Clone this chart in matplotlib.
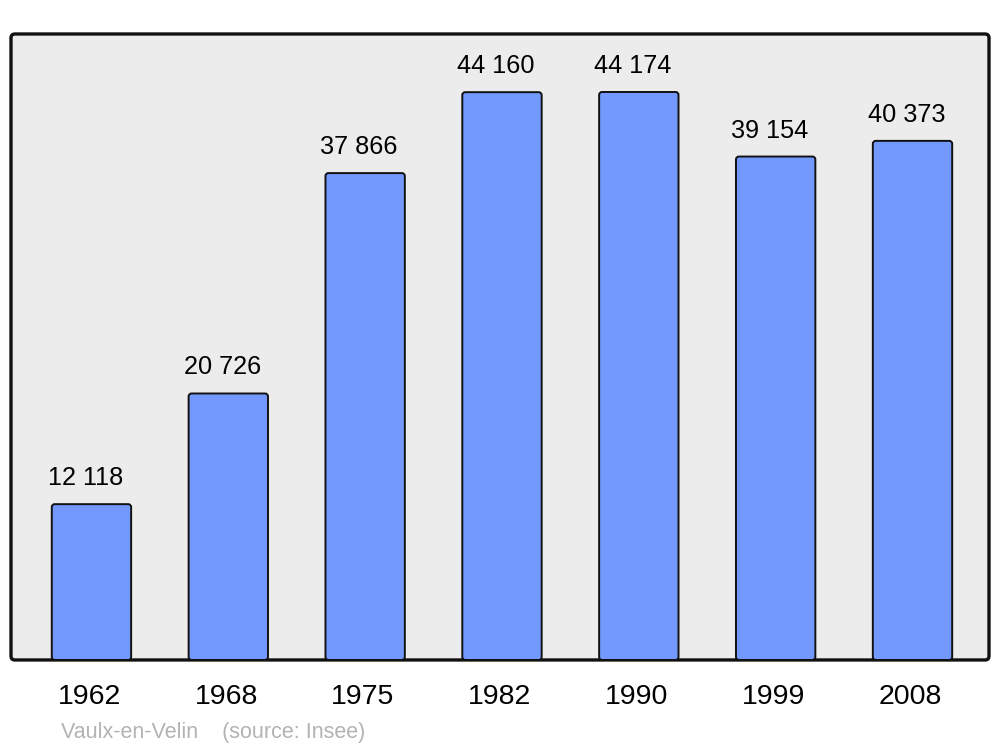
import matplotlib.pyplot as plt
from matplotlib.patches import FancyBboxPatch
from matplotlib.transforms import offset_copy

years = ["1962", "1968", "1975", "1982", "1990", "1999", "2008"]
population = [12118, 20726, 37866, 44160, 44174, 39154, 40373]
value_labels = ["12 118", "20 726", "37 866", "44 160", "44 174", "39 154", "40 373"]

plt.rcParams["font.family"] = ["Liberation Sans", "DejaVu Sans"]

fig = plt.figure(figsize=(10, 7.47), dpi=100)
ax = fig.add_axes([0.011, 0.1165, 0.978, 0.838])
ax.set_xlim(-0.588, 6.559)
ax.set_ylim(0, 48685)
ax.patch.set_visible(False)
for s in ax.spines.values():
    s.set_visible(False)

# rounded grey frame
frame = FancyBboxPatch((0, 0), 1, 1, boxstyle="round,pad=0,rounding_size=0.004",
                       mutation_aspect=978 / 626, transform=ax.transAxes,
                       facecolor="#ececec", edgecolor="#111111", linewidth=2.4,
                       zorder=0, clip_on=False)
ax.add_patch(frame)

x = list(range(len(years)))
bars = ax.bar(x, population, width=0.58, color="#7399ff")
# swap plain rectangles for slightly rounded ones
for b in bars:
    b.set_visible(False)
    rb = FancyBboxPatch((b.get_x(), b.get_y()), b.get_width(), b.get_height(),
                        boxstyle="round,pad=0,rounding_size=0.022",
                        mutation_aspect=10640, facecolor="#7399ff",
                        edgecolor="#111111", linewidth=1.4, zorder=2)
    ax.add_patch(rb)

for xi, v, lab in zip(x, population, value_labels):
    ax.annotate(lab, (xi, v), xytext=(-4.3, 13.7), textcoords="offset points",
                ha="center", va="baseline", fontsize=18.2, color="black")

# year labels under the frame
year_tr = offset_copy(ax.get_xaxis_transform(), fig=fig, x=-1.5, y=-32, units="points")
for xi, yr in zip(x, years):
    ax.text(xi, 0, yr, transform=year_tr, ha="center", va="baseline",
            fontsize=20.5, color="black", clip_on=False)

ax.set_xticks([])
ax.set_yticks([])

fig.text(0.061, 1 - 738 / 747, "Vaulx-en-Velin    (source: Insee)",
         fontsize=15.5, color="#b3b3b3", ha="left", va="baseline")

fig.savefig("out.png", dpi=100)
